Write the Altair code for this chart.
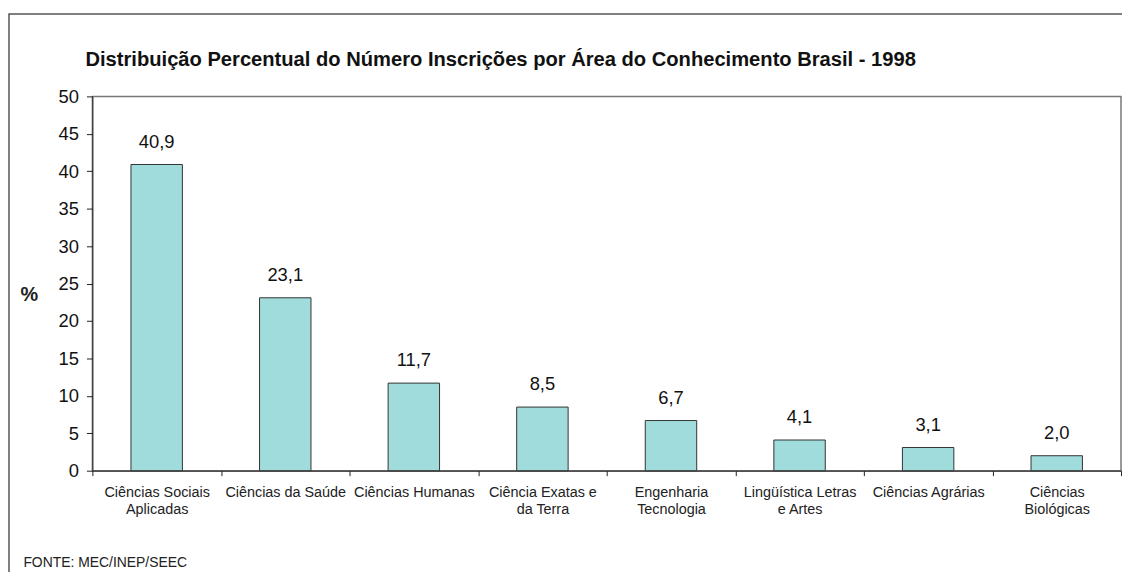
import altair as alt
import pandas as pd

# Data
categories = [
    "Ciências Sociais|Aplicadas",
    "Ciências da Saúde",
    "Ciências Humanas",
    "Ciência Exatas e|da Terra",
    "Engenharia|Tecnologia",
    "Lingüística Letras|e Artes",
    "Ciências Agrárias",
    "Ciências|Biológicas",
]
values = [40.9, 23.1, 11.7, 8.5, 6.7, 4.1, 3.1, 2.0]
y_ticks = [0, 5, 10, 15, 20, 25, 30, 35, 40, 45, 50]

title_text = "Distribuição Percentual do Número Inscrições por Área do Conhecimento Brasil - 1998"
source_text = "FONTE: MEC/INEP/SEEC"

df = pd.DataFrame({"area": categories, "pct": values})

FONT = "Liberation Sans"
INK = "#222222"

x_enc = alt.X(
    "area:N",
    sort=categories,
    scale=alt.Scale(paddingInner=0, paddingOuter=0),
    axis=alt.Axis(
        labelExpr="split(datum.label, '|')",
        labelAngle=0,
        labelFontSize=14.5,
        labelLineHeight=17,
        labelColor=INK,
        labelPadding=10,
        labelLimit=0,
        tickBand="extent",
        tickSize=5,
        tickColor=INK,
        domainColor=INK,
        title=source_text,
        titleX=-70,
        titleY=92,
        titleAlign="left",
        titleBaseline="middle",
        titleFontSize=14,
        titleFontWeight="normal",
        titleColor=INK,
    ),
)

y_enc = alt.Y(
    "pct:Q",
    scale=alt.Scale(domain=[0, 50], nice=False),
    axis=alt.Axis(
        values=y_ticks,
        grid=False,
        tickSize=6,
        tickColor=INK,
        domainColor=INK,
        labelFontSize=18.5,
        labelColor="#111111",
        labelPadding=8,
        labelOverlap=False,
        title="%",
        titleAngle=0,
        titleX=-64,
        titleY=200,
        titleAlign="center",
        titleBaseline="middle",
        titleFontSize=20,
        titleFontWeight="bold",
        titleColor=INK,
    ),
)

frame = alt.Chart(pd.DataFrame({"k": [0]})).mark_rect(
    fill="transparent", stroke="#555555", strokeWidth=1.5
).encode(
    x=alt.value(-84), x2=alt.value(1080), y=alt.value(-83), y2=alt.value(640)
)

bars = alt.Chart(df).mark_bar(
    color="#9fdcdb", stroke="#333333", strokeWidth=1, width={"band": 0.4}
).encode(x=x_enc, y=y_enc)

text = alt.Chart(df).transform_calculate(
    lab="replace(format(datum.pct, '.1f'), '.', ',')"
).mark_text(
    baseline="alphabetic", dy=-17, fontSize=18.5, color="#111111", font=FONT
).encode(x=x_enc, y=y_enc, text="lab:N")

chart = alt.layer(frame, bars, text).properties(
    width=1036,
    height=377,
    padding={"left": 85, "top": 87, "right": 1, "bottom": 100},
    autosize=alt.AutoSizeParams(type="none"),
    title=alt.TitleParams(
        text=title_text,
        anchor="start",
        frame="group",
        dx=-7,
        offset=-57,
        fontSize=20.3,
        fontWeight="bold",
        font=FONT,
        color="#111111",
    ),
).configure(
    font=FONT
).configure_view(
    stroke="#777777", strokeWidth=1.5
).configure_axis(
    labelFont=FONT, titleFont=FONT
)

chart.save("out.html", embed_options={"renderer": "svg", "actions": False})
